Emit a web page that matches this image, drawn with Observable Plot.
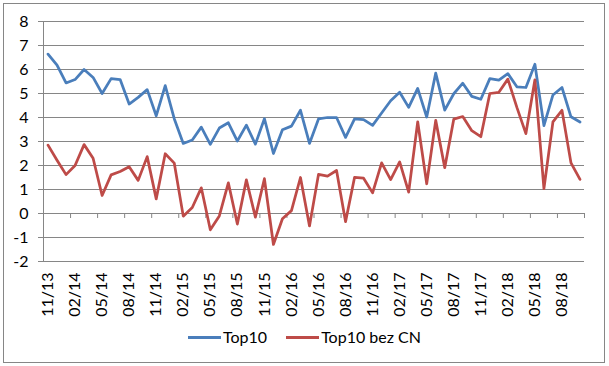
<!DOCTYPE html>
<html><head><meta charset="utf-8">
<script src="https://cdn.jsdelivr.net/npm/d3@7"></script>
<script src="https://cdn.jsdelivr.net/npm/@observablehq/plot@0.6"></script>
<style>
body{margin:0;background:#fff;}
#wrap{position:relative;width:609px;height:366px;overflow:hidden;font-family:Lato,"Liberation Sans",sans-serif;background:#fff;}
#border{position:absolute;left:3px;top:3px;width:600px;height:358px;border:1px solid #868686;box-sizing:content-box;}
#chart{position:absolute;left:0;top:0;}
#legend{position:absolute;left:0;top:327px;width:609px;display:flex;justify-content:center;align-items:center;font-size:16px;line-height:20px;gap:19px;color:#000;}
.item{display:flex;align-items:center;}
.sw{width:33px;height:3px;margin-right:2px;}
</style></head>
<body>
<div id="wrap"><div id="border"></div><div id="chart"></div><div id="legend"></div></div>
<script>
const months = ["11/13","12/13","01/14","02/14","03/14","04/14","05/14","06/14","07/14","08/14","09/14","10/14",
"11/14","12/14","01/15","02/15","03/15","04/15","05/15","06/15","07/15","08/15","09/15","10/15",
"11/15","12/15","01/16","02/16","03/16","04/16","05/16","06/16","07/16","08/16","09/16","10/16",
"11/16","12/16","01/17","02/17","03/17","04/17","05/17","06/17","07/17","08/17","09/17","10/17",
"11/17","12/17","01/18","02/18","03/18","04/18","05/18","06/18","07/18","08/18","09/18","10/18"];
const top10 = [6.64,6.18,5.44,5.58,6.0,5.67,5.0,5.62,5.58,4.56,4.84,5.16,4.07,5.33,3.95,2.92,3.06,3.6,2.88,3.56,
3.78,3.02,3.68,2.89,3.95,2.5,3.49,3.64,4.3,2.92,3.94,4.0,4.0,3.17,3.94,3.91,3.67,4.19,4.7,5.05,
4.42,5.21,4.02,5.85,4.31,4.99,5.43,4.88,4.76,5.62,5.56,5.83,5.28,5.25,6.22,3.66,4.94,5.25,4.03,3.81];
const top10bezCN = [2.85,2.22,1.62,2.0,2.87,2.3,0.75,1.61,1.75,1.95,1.38,2.37,0.61,2.49,2.1,-0.11,0.25,1.07,-0.68,-0.1,
1.28,-0.44,1.4,-0.15,1.45,-1.29,-0.22,0.12,1.5,-0.52,1.63,1.56,1.79,-0.34,1.51,1.47,0.86,2.11,1.41,2.15,
0.89,3.82,1.24,3.88,1.91,3.93,4.04,3.45,3.2,5.0,5.05,5.6,4.42,3.33,5.57,1.04,3.82,4.3,2.11,1.42];
const yTicks = [-2,-1,0,1,2,3,4,5,6,7,8];
const seriesNames = ["Top10","Top10 bez CN"];
const colors = ["#4a7ebb","#be4b48"];

const rows = months.map((m,i)=>({i, month:m, a:top10[i], b:top10bezCN[i]}));
const labelIdx = months.map((m,i)=>i).filter(i=>i%3===0);
const boundaries = months.map((m,i)=>i-0.5).filter((v,i)=>i%3===0).concat([months.length-0.5]);
const grid = "#868686";
const font = "Lato, 'Liberation Sans', sans-serif";

const chart = Plot.plot({
  width: 609, height: 366,
  marginLeft: 43, marginRight: 25, marginTop: 21, marginBottom: 105,
  style: {fontFamily: font, fontSize: "16px", background: "transparent", color: "#000"},
  x: {domain: [-0.5, months.length-0.5], axis: null},
  y: {domain: [-2, 8], axis: null},
  marks: [
    Plot.ruleY(yTicks, {stroke: grid, strokeWidth: 1}),
    Plot.ruleX([-0.5], {stroke: grid, strokeWidth: 1}),
    Plot.axisY({ticks: yTicks, tickSize: 5, tickPadding: 10, tickFormat: d=>String(d), stroke: grid, fontSize: 16, label: null}),
    Plot.ruleX(boundaries, {x: d=>d, y1: 0, y2: 0, insetBottom: -5, stroke: grid}),
    Plot.axisX({ticks: labelIdx, tickFormat: i=>months[i], tickSize: 0, tickPadding: 11, tickRotate: -90, anchor: "bottom", fontSize: 16, label: null}),
    Plot.line(rows, {x: "i", y: "a", stroke: colors[0], strokeWidth: 2.75}),
    Plot.line(rows, {x: "i", y: "b", stroke: colors[1], strokeWidth: 2.75})
  ]
});
document.getElementById("chart").appendChild(chart);

const lg = document.getElementById("legend");
seriesNames.forEach((n,k)=>{
  const it = document.createElement("div"); it.className="item";
  const sw = document.createElement("div"); sw.className="sw"; sw.style.background=colors[k];
  const tx = document.createElement("span"); tx.textContent=n;
  it.appendChild(sw); it.appendChild(tx); lg.appendChild(it);
});
</script>
</body></html>
